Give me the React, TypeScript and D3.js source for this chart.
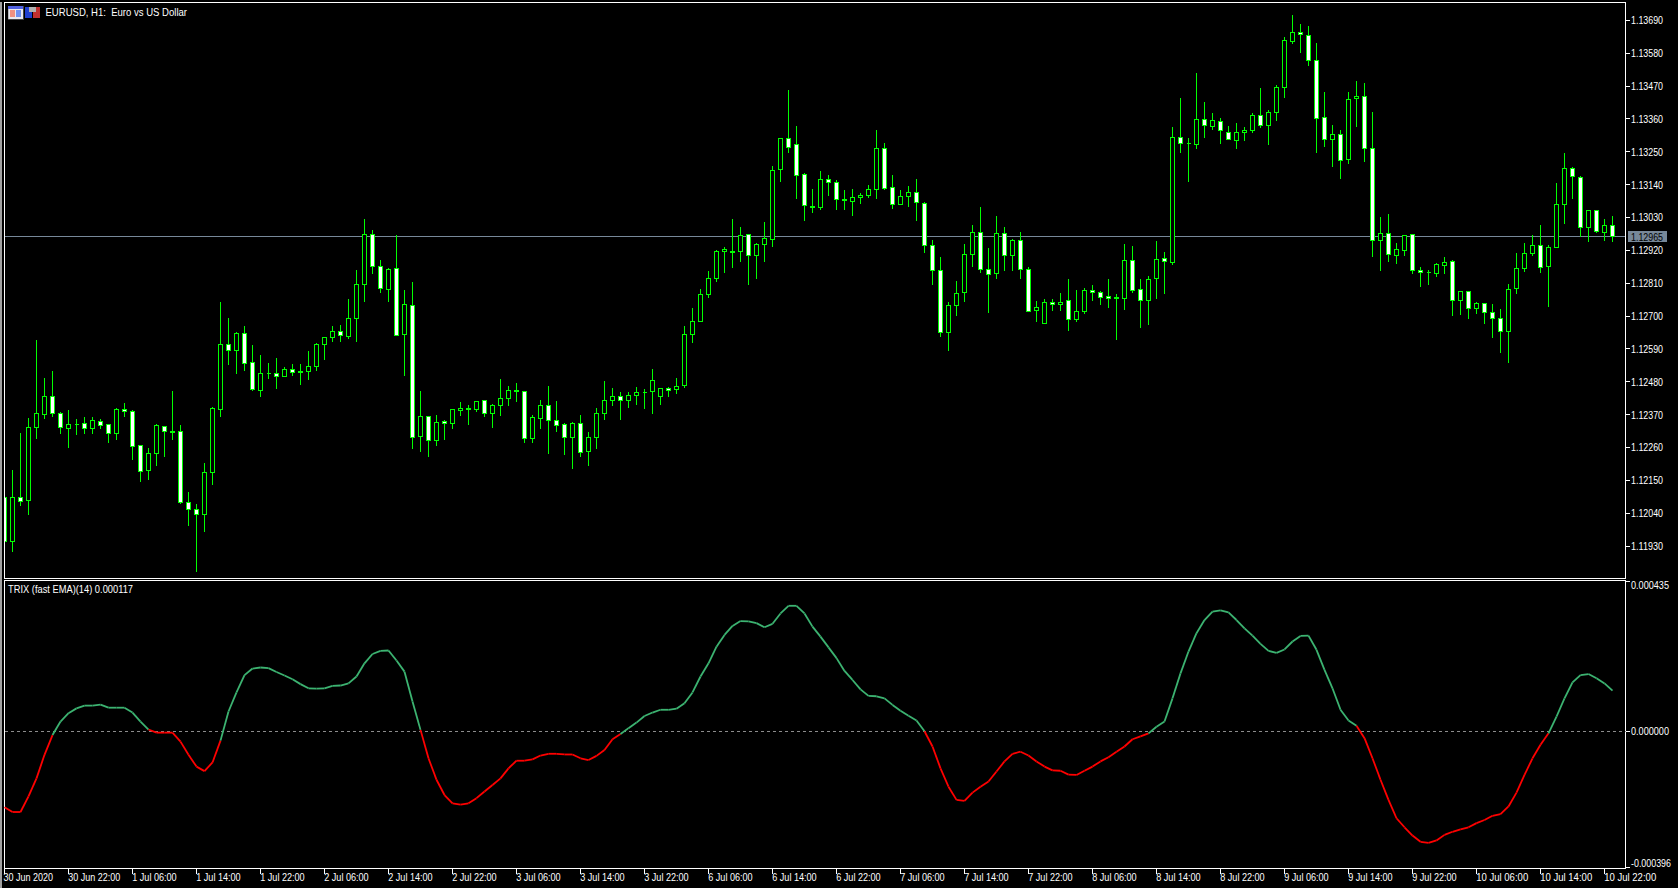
import React, { useEffect, useRef } from 'react';
import * as d3 from 'd3';

// prices are in 1e-5 units, TRIX values in 1e-6 units
const opens = [
  112093, 111944, 112093, 112082, 112326, 112370, 112431, 112374, 112323, 112337,
  112341, 112323, 112347, 112337, 112306, 112387, 112381, 112267, 112182, 112239,
  112331, 112314, 112314, 112076, 112053, 112035, 112175, 112386, 112605, 112585,
  112642, 112545, 112450, 112508, 112508, 112497, 112521, 112515, 112514, 112530,
  112605, 112627, 112649, 112631, 112692, 112804, 112973, 112866, 112788, 112860,
  112637, 112736, 112296, 112365, 112283, 112347, 112340, 112383, 112391, 112386,
  112418, 112373, 112400, 112423, 112451, 112448, 112289, 112356, 112401, 112351,
  112337, 112293, 112341, 112246, 112293, 112373, 112417, 112431, 112417, 112434,
  112445, 112448, 112430, 112458, 112455, 112467, 112639, 112681, 112771, 112825,
  112915, 112916, 112915, 112973, 112902, 112939, 112955, 113190, 113295, 113275,
  113174, 113067, 113063, 113157, 113147, 113090, 113083, 113097, 113103, 113123,
  113261, 113131, 113073, 113099, 113114, 113077, 112936, 112853, 112644, 112734,
  112778, 112905, 112980, 112856, 112842, 112977, 112902, 112953, 112856, 112718,
  112674, 112746, 112738, 112752, 112688, 112714, 112786, 112779, 112766, 112762,
  112758, 112886, 112789, 112751, 112825, 112893, 112878, 113298, 113278, 113273,
  113358, 113334, 113352, 113315, 113287, 113314, 113320, 113372, 113337, 113381,
  113464, 113618, 113650, 113640, 113556, 113365, 113290, 113308, 113223, 113428,
  113435, 113261, 112952, 112977, 112902, 112919, 112973, 112853, 112845, 112841,
  112870, 112883, 112752, 112782, 112725, 112742, 112712, 112692, 112648, 112791,
  112858, 112908, 112936, 112865, 112929, 113074, 113194, 113164, 112997, 113054,
  112980, 113004,
];
const closes = [
  111944, 112093, 112078, 112327, 112374, 112431, 112373, 112326, 112337, 112336,
  112323, 112351, 112333, 112306, 112387, 112380, 112262, 112179, 112240, 112334,
  112313, 112309, 112075, 112052, 112035, 112177, 112391, 112605, 112585, 112642,
  112541, 112454, 112508, 112507, 112498, 112521, 112511, 112511, 112531, 112605,
  112628, 112649, 112635, 112692, 112806, 112973, 112865, 112793, 112856, 112634,
  112739, 112293, 112365, 112283, 112344, 112340, 112388, 112391, 112386, 112414,
  112373, 112401, 112424, 112451, 112448, 112289, 112361, 112401, 112350, 112333,
  112293, 112341, 112242, 112294, 112374, 112418, 112431, 112417, 112434, 112445,
  112444, 112485, 112458, 112451, 112465, 112639, 112682, 112773, 112826, 112916,
  112923, 112913, 112970, 112902, 112940, 112960, 113188, 113295, 113263, 113170,
  113069, 113064, 113157, 113146, 113089, 113087, 113097, 113104, 113124, 113261,
  113126, 113073, 113101, 113114, 113079, 112935, 112852, 112644, 112736, 112776,
  112906, 112980, 112855, 112838, 112977, 112902, 112953, 112855, 112714, 112729,
  112746, 112738, 112746, 112688, 112715, 112786, 112778, 112761, 112758, 112758,
  112886, 112785, 112751, 112823, 112890, 112882, 113298, 113278, 113277, 113358,
  113337, 113355, 113321, 113290, 113315, 113321, 113372, 113337, 113382, 113466,
  113623, 113650, 113642, 113555, 113362, 113290, 113308, 113220, 113425, 113435,
  113261, 112953, 112977, 112905, 112923, 112970, 112853, 112845, 112844, 112873,
  112880, 112752, 112782, 112725, 112742, 112712, 112692, 112648, 112789, 112859,
  112909, 112936, 112863, 112930, 113074, 113194, 113168, 112997, 113054, 112983,
  113004, 112965,
];
const highs = [
  112120, 112187, 112310, 112361, 112620, 112495, 112519, 112381, 112387, 112357,
  112365, 112365, 112358, 112337, 112395, 112409, 112387, 112271, 112260, 112341,
  112332, 112449, 112337, 112114, 112071, 112210, 112397, 112750, 112695, 112649,
  112669, 112605, 112572, 112545, 112562, 112531, 112541, 112541, 112585, 112612,
  112628, 112669, 112672, 112757, 112856, 113027, 112988, 112890, 112863, 112973,
  112789, 112817, 112452, 112365, 112371, 112352, 112391, 112415, 112404, 112418,
  112418, 112408, 112492, 112466, 112479, 112448, 112371, 112421, 112468, 112418,
  112344, 112347, 112371, 112314, 112395, 112485, 112461, 112448, 112448, 112465,
  112458, 112525, 112461, 112465, 112495, 112669, 112729, 112793, 112853, 112923,
  112934, 113028, 113000, 112973, 112947, 113017, 113204, 113298, 113457, 113338,
  113181, 113127, 113188, 113174, 113157, 113124, 113127, 113114, 113141, 113325,
  113281, 113174, 113124, 113137, 113161, 113084, 112957, 112900, 112749, 112820,
  112944, 113008, 113068, 112931, 113038, 113000, 112961, 112983, 112867, 112753,
  112760, 112757, 112780, 112826, 112790, 112796, 112804, 112787, 112824, 112777,
  112944, 112936, 112827, 112837, 112953, 112916, 113336, 113430, 113298, 113516,
  113419, 113380, 113366, 113339, 113349, 113336, 113382, 113466, 113392, 113476,
  113636, 113708, 113678, 113673, 113617, 113452, 113342, 113325, 113452, 113487,
  113482, 113383, 113034, 113042, 112947, 112973, 112973, 112866, 112856, 112880,
  112900, 112889, 112786, 112782, 112749, 112745, 112742, 112725, 112809, 112913,
  112946, 112974, 113008, 112940, 113148, 113248, 113201, 113171, 113057, 113054,
  113027, 113037,
];
const lows = [
  111920, 111911, 112067, 112034, 112291, 112358, 112362, 112305, 112261, 112302,
  112305, 112307, 112325, 112275, 112285, 112362, 112218, 112147, 112154, 112201,
  112231, 112288, 112073, 112000, 111846, 111980, 112137, 112362, 112536, 112509,
  112519, 112449, 112429, 112492, 112456, 112497, 112502, 112472, 112489, 112516,
  112553, 112616, 112616, 112626, 112616, 112750, 112841, 112778, 112748, 112634,
  112502, 112258, 112248, 112231, 112268, 112285, 112325, 112368, 112338, 112379,
  112365, 112328, 112368, 112399, 112415, 112278, 112275, 112325, 112241, 112315,
  112238, 112191, 112228, 112198, 112255, 112352, 112402, 112355, 112395, 112405,
  112389, 112375, 112405, 112429, 112442, 112462, 112610, 112681, 112763, 112817,
  112847, 112861, 112884, 112807, 112827, 112884, 112934, 113149, 113246, 113092,
  113021, 113045, 113058, 113102, 113055, 113055, 113038, 113075, 113098, 113092,
  113122, 113061, 113073, 113065, 113021, 112914, 112807, 112630, 112586, 112703,
  112750, 112867, 112844, 112713, 112827, 112854, 112851, 112827, 112714, 112683,
  112674, 112717, 112720, 112650, 112680, 112707, 112753, 112737, 112730, 112620,
  112723, 112780, 112660, 112673, 112760, 112777, 112871, 113249, 113149, 113262,
  113299, 113326, 113276, 113290, 113262, 113289, 113313, 113331, 113273, 113353,
  113433, 113611, 113581, 113540, 113249, 113269, 113199, 113162, 113209, 113333,
  113216, 112898, 112851, 112884, 112877, 112901, 112841, 112800, 112807, 112833,
  112843, 112703, 112706, 112693, 112710, 112675, 112629, 112579, 112546, 112775,
  112850, 112904, 112847, 112733, 112929, 113011, 113092, 112966, 112951, 112979,
  112954, 112948,
];
const trix = [
  -219, -233, -233, -188, -136, -68, -11, 28, 52, 66,
  74, 74, 77, 68, 68, 68, 54, 28, 5, -4,
  -4, -4, -30, -68, -102, -115, -90, -27, 57, 112,
  162, 181, 184, 182, 171, 161, 150, 136, 124, 123,
  124, 131, 132, 138, 158, 196, 223, 232, 233, 204,
  172, 86, 4, -78, -140, -184, -208, -212, -208, -193,
  -174, -155, -136, -107, -85, -85, -81, -70, -65, -65,
  -67, -67, -78, -83, -71, -54, -23, -8, 9, 25,
  44, 54, 62, 62, 65, 81, 112, 158, 196, 244,
  278, 304, 318, 317, 312, 300, 310, 340, 362, 362,
  340, 302, 273, 242, 211, 174, 148, 121, 102, 101,
  95, 76, 59, 45, 31, 0, -44, -107, -160, -198,
  -201, -177, -160, -145, -116, -87, -65, -59, -70, -87,
  -102, -113, -114, -125, -126, -114, -102, -87, -75, -59,
  -44, -23, -15, -6, 13, 28, 95, 167, 230, 283,
  321, 345, 349, 343, 321, 297, 276, 252, 232, 226,
  236, 259, 275, 276, 235, 177, 124, 62, 31, 16,
  -20, -78, -140, -198, -251, -277, -301, -319, -322, -315,
  -299, -290, -283, -277, -265, -256, -244, -239, -217, -177,
  -126, -78, -39, -6, 42, 95, 141, 162, 165, 153,
  138, 117,
];
const priceTicks = [
  113690, 113580, 113470, 113360, 113250, 113140, 113030, 112920, 112810,
  112700, 112590, 112480, 112370, 112260, 112150, 112040, 111930,
];
const lastPrice = 112965;
const timeLabels = [
  '30 Jun 2020', '30 Jun 22:00', '1 Jul 06:00', '1 Jul 14:00', '1 Jul 22:00', '2 Jul 06:00',
  '2 Jul 14:00', '2 Jul 22:00', '3 Jul 06:00', '3 Jul 14:00', '3 Jul 22:00', '6 Jul 06:00',
  '6 Jul 14:00', '6 Jul 22:00', '7 Jul 06:00', '7 Jul 14:00', '7 Jul 22:00', '8 Jul 06:00',
  '8 Jul 14:00', '8 Jul 22:00', '9 Jul 06:00', '9 Jul 14:00', '9 Jul 22:00', '10 Jul 06:00',
  '10 Jul 14:00', '10 Jul 22:00',
];
const barsPerLabel = 8;
const trixTop = 435;
const trixBottom = -396;
const chartTitle = 'EURUSD, H1:  Euro vs US Dollar';
const trixTitle = 'TRIX (fast EMA)(14) 0.000117';

const WIDTH = 1678;
const HEIGHT = 888;
const FONT = '"Liberation Sans", Arial, sans-serif';
const FONT_SIZE = 11;
const GREEN = '#00ff00';

const App: React.FC = () => {
  const svgRef = useRef<SVGSVGElement>(null);

  useEffect(() => {
    if (!svgRef.current) return;
    const svg = d3.select(svgRef.current);
    svg.selectAll('*').remove();

    const left = 4.5;
    const right = 1625.5;
    const top = 2.5;
    const mainBottom = 578.5;
    const subTop = 580.5;
    const subBottom = 868.5;

    const x = d3.scaleLinear().domain([0, 201]).range([4.5, 1612.5]);
    const y = d3.scaleLinear().domain([113690, 111930]).range([20.3, 546]);
    const yTrix = d3.scaleLinear().domain([trixTop, trixBottom]).range([580.5, 868.5]);
    const snap = (v: number) => Math.round(v - 0.5) + 0.5;

    svg.append('rect').attr('width', WIDTH).attr('height', HEIGHT).attr('fill', '#000');
    svg.append('rect').attr('width', 2).attr('height', HEIGHT).attr('y', 2).attr('fill', '#a0a0a0');

    const crisp = svg.append('g').attr('shape-rendering', 'crispEdges');

    // last price line, sits under the candles
    crisp.append('line')
      .attr('x1', left).attr('x2', right)
      .attr('y1', snap(y(lastPrice))).attr('y2', snap(y(lastPrice)))
      .attr('stroke', '#778899');

    // wicks
    crisp.append('g').selectAll('line')
      .data(d3.range(opens.length))
      .enter()
      .append('line')
      .attr('x1', i => x(i)).attr('x2', i => x(i))
      .attr('y1', i => snap(y(highs[i]))).attr('y2', i => snap(y(lows[i])))
      .attr('stroke', GREEN);

    // bodies, down candles are white and up candles black
    crisp.append('g').selectAll('path')
      .data(d3.range(opens.length))
      .enter()
      .append('path')
      .attr('d', i => {
        const t = snap(y(Math.max(opens[i], closes[i])));
        const b = snap(y(Math.min(opens[i], closes[i])));
        const p = d3.path();
        p.rect(Math.max(x(i) - 2, left), t, x(i) - 2 < left ? 2 : 4, b - t);
        return p.toString();
      })
      .attr('fill', i => (closes[i] < opens[i] ? '#fff' : '#000'))
      .attr('stroke', GREEN);

    // frames
    const frame = crisp.append('g').attr('stroke', '#fff').attr('fill', 'none');
    frame.append('rect').attr('x', left).attr('y', top).attr('width', right - left).attr('height', mainBottom - top);
    frame.append('rect').attr('x', left).attr('y', subTop).attr('width', right - left).attr('height', subBottom - subTop);

    // price axis
    const axisG = svg.append('g').attr('font-family', FONT).attr('font-size', FONT_SIZE).attr('fill', '#fff');
    priceTicks.forEach(p => {
      crisp.append('line')
        .attr('x1', right).attr('x2', right + 4)
        .attr('y1', snap(y(p))).attr('y2', snap(y(p)))
        .attr('stroke', '#fff');
      axisG.append('text')
        .attr('x', 1631).attr('y', y(p) + 4)
        .attr('textLength', 32).attr('lengthAdjust', 'spacingAndGlyphs')
        .text((p / 1e5).toFixed(5));
    });

    svg.append('rect')
      .attr('x', 1628).attr('y', 231).attr('width', 39).attr('height', 11)
      .attr('fill', '#778899').attr('shape-rendering', 'crispEdges');
    svg.append('text')
      .attr('x', 1631).attr('y', y(lastPrice) + 4)
      .attr('textLength', 32).attr('lengthAdjust', 'spacingAndGlyphs')
      .attr('font-family', FONT).attr('font-size', FONT_SIZE).attr('fill', '#000')
      .text((lastPrice / 1e5).toFixed(5));

    // zero level
    crisp.append('line')
      .attr('x1', left).attr('x2', right)
      .attr('y1', snap(yTrix(0))).attr('y2', snap(yTrix(0)))
      .attr('stroke', '#8c8c8c').attr('stroke-dasharray', '3,3');

    // TRIX segments, green while the next value is above zero
    const seg = d3.line<number>().x(i => x(i)).y(i => yTrix(trix[i]));
    const trixG = svg.append('g').attr('fill', 'none').attr('stroke-width', 1.8);
    d3.range(trix.length - 1).forEach(i => {
      trixG.append('path')
        .attr('d', seg([i, i + 1]))
        .attr('stroke', trix[i + 1] >= 0 ? '#3cb371' : '#ff0000');
    });

    // indicator axis
    const trixTicks = [
      { v: trixTop, tickY: 581.5, textY: 589 },
      { v: 0, tickY: snap(yTrix(0)), textY: 734.5 },
      { v: trixBottom, tickY: 867.5, textY: 866.5 },
    ];
    trixTicks.forEach(t => {
      crisp.append('line')
        .attr('x1', right).attr('x2', right + 4)
        .attr('y1', t.tickY).attr('y2', t.tickY)
        .attr('stroke', '#fff');
      axisG.append('text')
        .attr('x', 1631).attr('y', t.textY)
        .attr('textLength', t.v < 0 ? 40 : 38).attr('lengthAdjust', 'spacingAndGlyphs')
        .text((t.v / 1e6).toFixed(6));
    });

    // time axis
    timeLabels.forEach((label, k) => {
      const tx = x(k * barsPerLabel);
      crisp.append('line')
        .attr('x1', tx).attr('x2', tx)
        .attr('y1', subBottom).attr('y2', subBottom + 5)
        .attr('stroke', '#fff');
      axisG.append('text')
        .attr('x', k === 0 ? 3.6 : tx - 0.3).attr('y', 881)
        .attr('textLength', k === 0 ? 49.5 : label.length === 12 ? 52 : 44.5)
        .attr('lengthAdjust', 'spacingAndGlyphs')
        .text(label);
    });

    // titles
    svg.append('text')
      .attr('x', 45.5).attr('y', 16)
      .attr('textLength', 141.5).attr('lengthAdjust', 'spacingAndGlyphs')
      .attr('font-family', FONT).attr('font-size', FONT_SIZE).attr('fill', '#fff')
      .style('white-space', 'pre')
      .text(chartTitle);
    svg.append('text')
      .attr('x', 8).attr('y', 593)
      .attr('textLength', 125).attr('lengthAdjust', 'spacingAndGlyphs')
      .attr('font-family', FONT).attr('font-size', FONT_SIZE).attr('fill', '#fff')
      .text(trixTitle);

    // the two little toolbar icons next to the title
    const icons = svg.append('g').attr('shape-rendering', 'crispEdges');
    icons.append('rect').attr('x', 8).attr('y', 6).attr('width', 15).attr('height', 13).attr('fill', '#e8e8f0').attr('stroke', '#888').attr('stroke-width', 0.5);
    icons.append('rect').attr('x', 8).attr('y', 6).attr('width', 15).attr('height', 3).attr('fill', '#5060e0');
    icons.append('rect').attr('x', 10).attr('y', 10).attr('width', 5).attr('height', 7).attr('fill', '#f09080');
    icons.append('rect').attr('x', 16).attr('y', 10).attr('width', 5).attr('height', 7).attr('fill', '#7090f0');
    icons.append('rect').attr('x', 25).attr('y', 7).attr('width', 7).attr('height', 11).attr('fill', '#2040d0');
    icons.append('rect').attr('x', 33).attr('y', 7).attr('width', 7).attr('height', 11).attr('fill', '#c03030');
    icons.append('rect').attr('x', 29).attr('y', 7).attr('width', 7).attr('height', 5).attr('fill', '#b0b0b0');
  }, []);

  return (
    <svg
      ref={svgRef}
      width={WIDTH}
      height={HEIGHT}
      style={{ position: 'absolute', left: 0, top: 0, display: 'block' }}
    />
  );
};

export default App;
